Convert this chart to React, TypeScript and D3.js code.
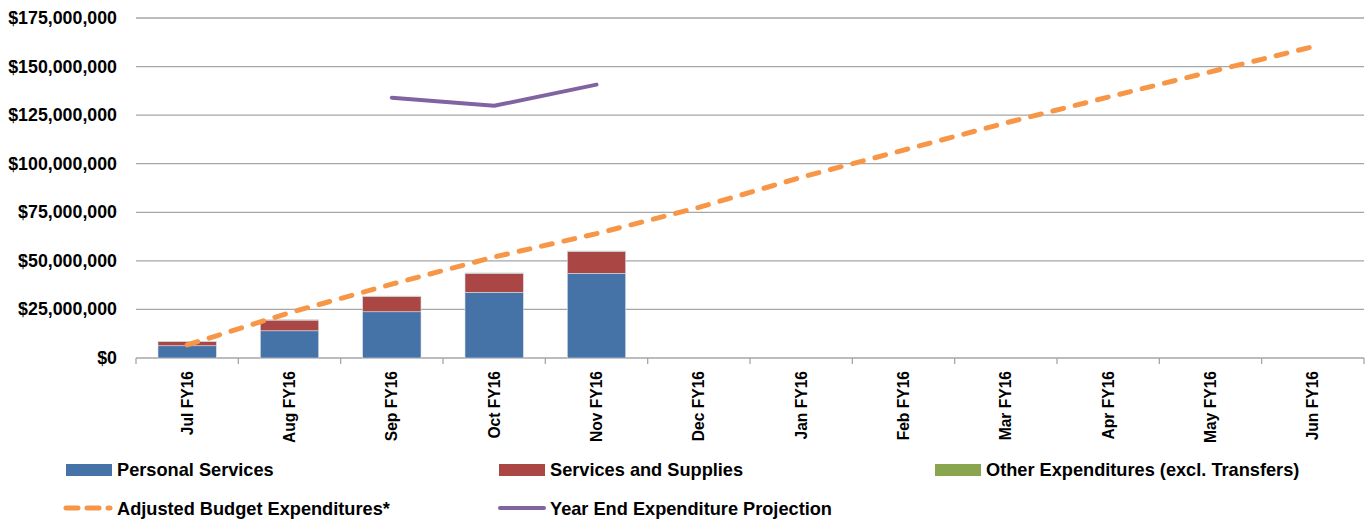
import React from "react";
import * as d3 from "d3";

const categories = ["Jul FY16", "Aug FY16", "Sep FY16", "Oct FY16", "Nov FY16", "Dec FY16", "Jan FY16", "Feb FY16", "Mar FY16", "Apr FY16", "May FY16", "Jun FY16"];
const personalServices = [6.3e6, 14.0e6, 23.8e6, 33.8e6, 43.6e6, null, null, null, null, null, null, null];
const servicesSupplies = [2.1e6, 5.5e6, 7.9e6, 9.8e6, 11.3e6, null, null, null, null, null, null, null];
const otherExpenditures = [0.2e6, 0.2e6, 0.2e6, 0.2e6, 0.2e6, null, null, null, null, null, null, null];
const adjustedBudget = [6.7e6, 23.3e6, 38e6, 52e6, 64e6, 77.5e6, 93e6, 107e6, 121e6, 134.3e6, 147.3e6, 160.2e6];
const yearEndProjection = [null, null, 134e6, 129.8e6, 140.7e6, null, null, null, null, null, null, null];
const yTicks = [0, 25e6, 50e6, 75e6, 100e6, 125e6, 150e6, 175e6];

const COLORS = {
  ps: "#4572A7",
  ss: "#AA4643",
  other: "#89A54E",
  budget: "#F79646",
  proj: "#8064A2",
  grid: "#A6A6A6",
};

const FONT = "'Liberation Sans', Arial, sans-serif";

export default function App() {
  const W = 1365;
  const H = 519;
  const left = 136;
  const right = 1364;
  const top = 18;
  const bottom = 358;

  const x = d3.scaleBand<string>().domain(categories).range([left, right]).padding(0);
  const y = d3.scaleLinear().domain([0, 175e6]).range([bottom, top]);
  const barW = x.bandwidth() * 0.57;
  const cx = (c: string) => (x(c) as number) + x.bandwidth() / 2;
  const fmt = (v: number) => "$" + d3.format(",")(v);

  const stacks = categories.map((c, i) => {
    const p = personalServices[i];
    if (p == null) return null;
    const s = servicesSupplies[i] ?? 0;
    const o = otherExpenditures[i] ?? 0;
    return [
      { y0: 0, y1: p, color: COLORS.ps },
      { y0: p, y1: p + s, color: COLORS.ss },
      { y0: p + s, y1: p + s + o, color: COLORS.other },
    ];
  });

  const line = d3
    .line<number | null>()
    .defined((d) => d != null)
    .x((_, i) => cx(categories[i]))
    .y((d) => y(d as number));

  const tickXs = [...categories.map((c) => x(c) as number), right];

  const legendRow1 = [
    { x: 66, label: "Personal Services", color: COLORS.ps },
    { x: 499, label: "Services and Supplies", color: COLORS.ss },
    { x: 935, label: "Other Expenditures (excl. Transfers)", color: COLORS.other },
  ];

  return (
    <svg
      width={W}
      height={H}
      style={{ position: "absolute", left: 0, top: 0, background: "#fff" }}
      fontFamily={FONT}
    >
      {yTicks.map((t) => (
        <line key={"g" + t} x1={left} x2={right} y1={y(t)} y2={y(t)} stroke={COLORS.grid} strokeWidth={1.3} />
      ))}
      {yTicks.map((t) => (
        <text
          key={"yl" + t}
          x={117}
          y={y(t)}
          textAnchor="end"
          dominantBaseline="central"
          fontSize={17.8}
          fontWeight="bold"
          fill="#000"
        >
          {fmt(t)}
        </text>
      ))}
      {tickXs.map((tx, i) => (
        <line key={"t" + i} x1={tx} x2={tx} y1={bottom} y2={bottom + 6} stroke={COLORS.grid} strokeWidth={1.3} />
      ))}
      {stacks.map((st, i) =>
        st
          ? st.map((seg, j) => (
              <rect
                key={"b" + i + "-" + j}
                x={cx(categories[i]) - barW / 2}
                width={barW}
                y={y(seg.y1)}
                height={y(seg.y0) - y(seg.y1)}
                fill={seg.color}
                stroke="#D9DEE8"
                strokeWidth={0.6}
              />
            ))
          : null
      )}
      {categories.map((c) => (
        <text
          key={"xl" + c}
          transform={`translate(${cx(c) + 5.5},371) rotate(-90)`}
          textAnchor="end"
          fontSize={15.6}
          fontWeight="bold"
          fill="#000"
        >
          {c}
        </text>
      ))}
      <path
        d={line(adjustedBudget) || ""}
        fill="none"
        stroke={COLORS.budget}
        strokeWidth={5}
        strokeDasharray="11 12"
        strokeLinecap="round"
      />
      <path
        d={line(yearEndProjection) || ""}
        fill="none"
        stroke={COLORS.proj}
        strokeWidth={4}
        strokeLinecap="round"
        strokeLinejoin="round"
      />
      {legendRow1.map((l) => (
        <g key={l.label}>
          <rect x={l.x} y={464} width={46} height={12} fill={l.color} />
          <text x={l.x + 51} y={476} fontSize={18.2} fontWeight="bold" fill="#000">
            {l.label}
          </text>
        </g>
      ))}
      <line x1={66} x2={110} y1={508} y2={508} stroke={COLORS.budget} strokeWidth={5} strokeDasharray="12 9" strokeLinecap="round" />
      <text x={117} y={515} fontSize={18.2} fontWeight="bold" fill="#000">
        Adjusted Budget Expenditures*
      </text>
      <line x1={500} x2={544} y1={508} y2={508} stroke={COLORS.proj} strokeWidth={4} strokeLinecap="round" />
      <text x={550} y={515} fontSize={18.2} fontWeight="bold" fill="#000">
        Year End Expenditure Projection
      </text>
    </svg>
  );
}
